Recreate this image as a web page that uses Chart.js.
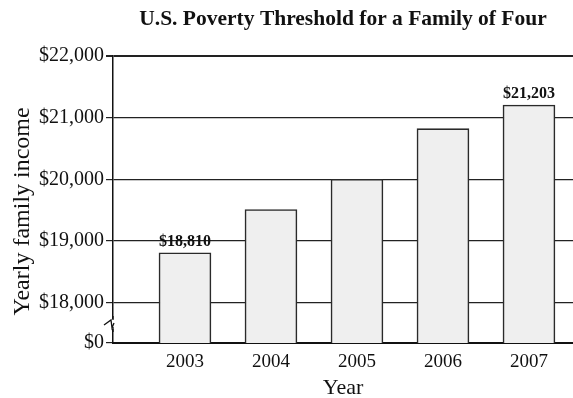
<!DOCTYPE html>
<html><head><meta charset="utf-8">
<script src="https://cdn.jsdelivr.net/npm/chart.js@4/dist/chart.umd.min.js"></script>
<style>html,body{margin:0;padding:0;background:#fff}#wrap{width:573px;height:398px}</style>
</head><body><div id="wrap"><canvas id="c" width="573" height="398"></canvas></div>
<script>
const years = [2003, 2004, 2005, 2006, 2007];
const incomes = [18810, 19510, 20000, 20820, 21203];
const valueLabels = ["$18,810", "", "", "", "$21,203"];
const yTickValues = [17350, 18000, 19000, 20000, 21000, 22000];
const yTickLabels = ["$0", "$18,000", "$19,000", "$20,000", "$21,000", "$22,000"];
const xTickLabels = ["2003", "2004", "2005", "2006", "2007"];

const serif = "'Liberation Serif', 'DejaVu Serif', serif";

const decor = {
  id: 'decor',
  afterDatasetsDraw(chart) {
    const ctx = chart.ctx;
    const meta = chart.getDatasetMeta(0);
    ctx.save();
    ctx.font = "bold 16px " + serif;
    ctx.fillStyle = '#111';
    ctx.textAlign = 'center';
    ctx.textBaseline = 'bottom';
    meta.data.forEach((bar, i) => {
      if (valueLabels[i]) ctx.fillText(valueLabels[i], bar.x, bar.y - 3);
    });
    // axis break symbol
    const ys = chart.scales.y;
    const yb = (ys.getPixelForValue(yTickValues[0]) + ys.getPixelForValue(yTickValues[1])) / 2 + 1;
    const x0 = ys.right;
    ctx.fillStyle = '#fff';
    ctx.fillRect(x0 - 2, yb - 5, 4, 10);
    ctx.strokeStyle = '#111';
    ctx.lineWidth = 1.3;
    ctx.beginPath();
    ctx.moveTo(x0 - 9, yb + 1);
    ctx.lineTo(x0 - 2, yb - 4);
    ctx.lineTo(x0 - 1, yb + 4);
    ctx.lineTo(x0 + 1, yb - 1);
    ctx.stroke();
    ctx.beginPath();
    ctx.moveTo(x0, yb - 8); ctx.lineTo(x0, yb - 4);
    ctx.moveTo(x0, yb + 3); ctx.lineTo(x0, yb + 8);
    ctx.stroke();
    ctx.restore();
  }
};

new Chart(document.getElementById('c'), {
  type: 'bar',
  data: {
    datasets: [{
      data: years.map((y, i) => ({ x: y, y: incomes[i] })),
      backgroundColor: '#efefef',
      borderColor: '#2a2a2a',
      borderWidth: 1.6,
      borderSkipped: 'bottom',
      barThickness: 52
    }]
  },
  options: {
    responsive: false,
    animation: false,
    layout: { padding: { top: 0, right: 0, left: 0, bottom: 0 } },
    plugins: {
      legend: { display: false },
      tooltip: { enabled: false },
      title: {
        display: true,
        fullSize: false,
        text: 'U.S. Poverty Threshold for a Family of Four',
        color: '#111',
        font: { family: serif, size: 21.5, weight: 'bold' },
        padding: { top: 7, bottom: 23 }
      }
    },
    scales: {
      x: {
        type: 'linear',
        offset: false,
        min: 2002.163,
        max: 2007.512,
        afterBuildTicks(s) { s.ticks = years.map(v => ({ value: v })); },
        afterFit(s) { s.height = 55; },
        ticks: {
          color: '#111',
          font: { family: serif, size: 19 },
          padding: 0,
          callback: (v) => xTickLabels[years.indexOf(v)]
        },
        grid: { display: false, offset: false },
        border: { display: true, color: '#111', width: 2 },
        title: {
          display: true, text: 'Year', color: '#111',
          font: { family: serif, size: 22 }, padding: { top: 0, bottom: -3 }
        }
      },
      y: {
        min: yTickValues[0],
        max: 22000,
        afterBuildTicks(s) { s.ticks = yTickValues.map(v => ({ value: v })); },
        afterFit(s) { s.width = 113; },
        ticks: {
          color: '#111',
          font: { family: serif, size: 20 },
          padding: 2,
          callback: (v) => yTickLabels[yTickValues.indexOf(v)]
        },
        grid: {
          color: '#222',
          lineWidth: (c) => (c.tick && c.tick.value === 22000 ? 2 : 1.2),
          tickLength: 7,
          drawTicks: true
        },
        border: { display: true, color: '#111', width: 1.5 },
        title: {
          display: true, text: 'Yearly family income    ', color: '#111',
          font: { family: serif, size: 24 }, padding: { top: 8, bottom: 0 }
        }
      }
    }
  },
  plugins: [decor]
});
</script>
</body></html>
